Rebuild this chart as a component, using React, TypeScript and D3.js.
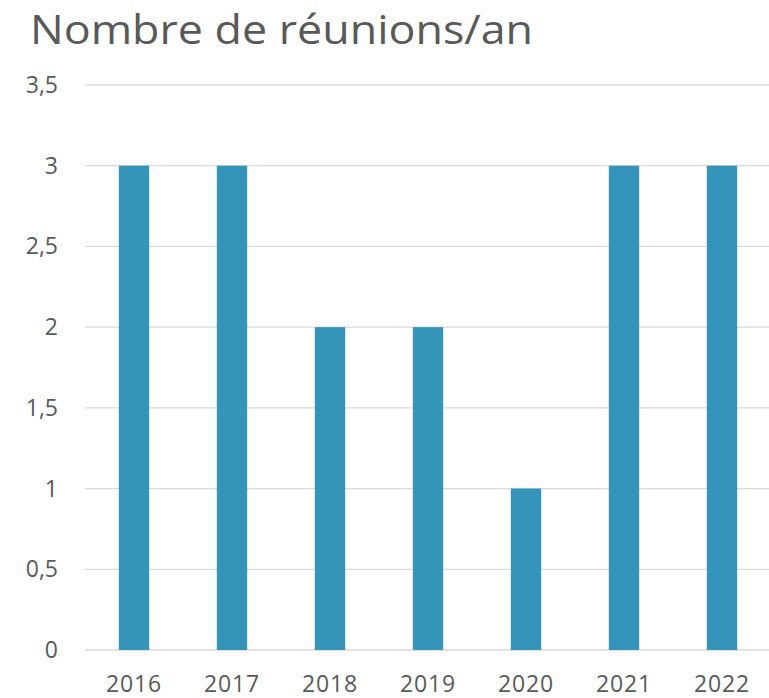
import React from "react";
import * as d3 from "d3";

const categories = ["2016", "2017", "2018", "2019", "2020", "2021", "2022"];
const values = [3, 3, 2, 2, 1, 3, 3];
const yTicks = [0, 0.5, 1, 1.5, 2, 2.5, 3, 3.5];
const title = "Nombre de réunions/an";

export default function App() {
  const W = 769, H = 698;
  const left = 85, right = 771, top = 85, bottom = 650;
  const x = d3.scaleBand<string>().domain(categories).range([left, right]).paddingInner(0.69).paddingOuter(0.345);
  const y = d3.scaleLinear().domain([0, 3.5]).range([bottom, top]);
  const fmt = (v: number) => String(v).replace(".", ",");
  const font = "'Open Sans', 'DejaVu Sans', sans-serif";
  return (
    <svg width={W} height={H} style={{ position: "absolute", left: 0, top: 0 }} fontFamily={font}>
      <rect width={W} height={H} fill="#fff" />
      <text x={30} y={44} fontSize={40} fill="#595959" textLength={503} lengthAdjust="spacingAndGlyphs">{title}</text>
      {yTicks.map((t) => (
        <g key={t}>
          <line x1={left} x2={W} y1={y(t)} y2={y(t)} stroke="#d9d9d9" strokeWidth={1.3} />
          <text x={58} y={y(t)} dy="0.35em" textAnchor="end" fontSize={23} fill="#595959">{fmt(t)}</text>
        </g>
      ))}
      {categories.map((c, i) => (
        <rect key={c} x={x(c)} y={y(values[i])} width={x.bandwidth()} height={y(0) - y(values[i])} fill="#3494BA" />
      ))}
      {categories.map((c) => (
        <text key={c} x={(x(c) as number) + x.bandwidth() / 2} y={692} textAnchor="middle" fontSize={23} fill="#595959" letterSpacing={0.8}>{c}</text>
      ))}
    </svg>
  );
}
